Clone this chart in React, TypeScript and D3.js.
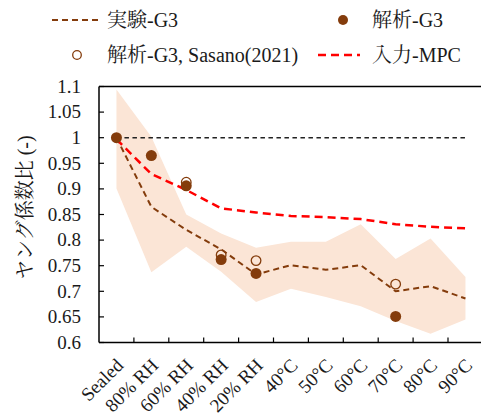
import React from "react";
import * as d3 from "d3";

const categories = ["Sealed", "80% RH", "60% RH", "40% RH", "20% RH", "40°C", "50°C", "60°C", "70°C", "80°C", "90°C"];
const expMean = [1.0, 0.865, 0.82, 0.782, 0.733, 0.751, 0.742, 0.751, 0.70, 0.71, 0.686];
const expUpper = [1.094, 1.002, 0.85, 0.813, 0.785, 0.797, 0.797, 0.831, 0.763, 0.803, 0.728];
const expLower = [0.901, 0.737, 0.787, 0.738, 0.679, 0.705, 0.689, 0.671, 0.642, 0.617, 0.645];
const mpc = [0.997, 0.929, 0.898, 0.862, 0.854, 0.847, 0.845, 0.841, 0.831, 0.826, 0.823];
const anaG3: (number | null)[] = [1.0, 0.965, 0.906, 0.762, 0.735, null, null, null, 0.651, null, null];
const sasano: (number | null)[] = [null, null, 0.913, 0.771, 0.76, null, null, null, 0.714, null, null];
const yTicks = [0.6, 0.65, 0.7, 0.75, 0.8, 0.85, 0.9, 0.95, 1, 1.05, 1.1];

const BROWN = "#843C0C";
const RED = "#FF0000";
const FILL = "#FBE5D6";
const FONT = "'Liberation Serif', 'Noto Serif CJK JP', serif";
const TXT = "#1a1a1a";

export default function App() {
  const left = 99, top = 86.5, bottom = 342.5;
  const bandW = 34.9;
  const x = d3.scaleBand<string>().domain(categories).range([left, left + bandW * categories.length]).padding(0);
  const y = d3.scaleLinear().domain([0.6, 1.1]).range([bottom, top]);
  const cx = (i: number) => (x(categories[i]) as number) + x.bandwidth() / 2;

  const area = d3.area<number>().x((_, i) => cx(i)).y0((_, i) => y(expLower[i])).y1((d) => y(d));
  const line = d3.line<number>().x((_, i) => cx(i)).y((d) => y(d));

  return (
    <svg width={481} height={415} style={{ position: "absolute", left: 0, top: 0 }}>
      <rect width={481} height={415} fill="#fff" />
      <path d={area(expUpper) || ""} fill={FILL} />
      <line x1={cx(0)} x2={cx(10)} y1={y(1)} y2={y(1)} stroke="#222" strokeWidth={1.5} strokeDasharray="4.5 3.5" />
      <path d={line(expMean) || ""} fill="none" stroke={BROWN} strokeWidth={2} strokeDasharray="6 4" />
      <path d={line(mpc) || ""} fill="none" stroke={RED} strokeWidth={2.5} strokeDasharray="8 5" />
      {anaG3.map((v, i) => v == null ? null : <circle key={"a" + i} cx={cx(i)} cy={y(v)} r={5.5} fill={BROWN} />)}
      {sasano.map((v, i) => v == null ? null : <circle key={"s" + i} cx={cx(i)} cy={y(v)} r={4.8} fill="none" stroke={BROWN} strokeWidth={1.3} />)}
      {/* axes */}
      <line x1={left} x2={481} y1={top} y2={top} stroke="#000" strokeWidth={1.5} />
      <line x1={left} x2={left} y1={top} y2={bottom} stroke="#000" strokeWidth={1.5} />
      <line x1={left} x2={481} y1={bottom} y2={bottom} stroke="#000" strokeWidth={1.5} />
      {yTicks.map((t) => (
        <g key={"y" + t}>
          <line x1={left} x2={left + 5} y1={y(t)} y2={y(t)} stroke="#000" strokeWidth={1.2} />
          <text x={81} y={y(t)} dy="0.33em" textAnchor="end" fontSize={19} fontFamily={FONT} fill={TXT}>{String(t)}</text>
        </g>
      ))}
      {categories.slice(1).map((c) => (
        <line key={"xt" + c} x1={x(c)} x2={x(c)} y1={bottom} y2={bottom - 5} stroke="#000" strokeWidth={1.2} />
      ))}
      {categories.map((c, i) => (
        <text key={"xl" + c} transform={`translate(${cx(i) + 8},${bottom + 24}) rotate(-45)`} textAnchor="end" fontSize={19} fontFamily={FONT} fill={TXT}>{c}</text>
      ))}
      <text transform={`translate(25,${(top + bottom) / 2 - 7}) rotate(-90)`} textAnchor="middle" dy="0.35em" fontSize={20} fontFamily={FONT} fill={TXT}>ヤング係数比 (-)</text>
      {/* legend */}
      <line x1={52} x2={98} y1={20} y2={20} stroke={BROWN} strokeWidth={2} strokeDasharray="6 4" />
      <text x={107} y={20} dy="0.35em" fontSize={20} fontFamily={FONT} fill={TXT}>実験-G3</text>
      <circle cx={343} cy={20} r={5} fill={BROWN} />
      <text x={372} y={20} dy="0.35em" fontSize={20} fontFamily={FONT} fill={TXT}>解析-G3</text>
      <circle cx={77} cy={55} r={4.3} fill="none" stroke={BROWN} strokeWidth={1.3} />
      <text x={107} y={55} dy="0.35em" fontSize={20} fontFamily={FONT} fill={TXT}>解析-G3, Sasano(2021)</text>
      <line x1={318} x2={360} y1={55} y2={55} stroke={RED} strokeWidth={2.5} strokeDasharray="8 5" />
      <text x={372} y={55} dy="0.35em" fontSize={20} fontFamily={FONT} fill={TXT}>入力-MPC</text>
    </svg>
  );
}
